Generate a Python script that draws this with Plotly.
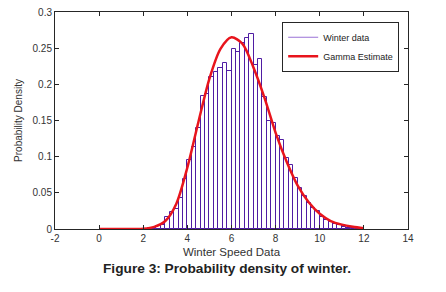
import plotly.graph_objects as go

# Histogram bins (left edges) and probability densities
bin_left = [2.2, 2.4, 2.6, 2.8, 3.0, 3.2, 3.4, 3.6, 3.8, 4.0,
            4.2, 4.4, 4.6, 4.8, 5.0, 5.2, 5.4, 5.6, 5.8, 6.0,
            6.2, 6.4, 6.6, 6.8, 7.0, 7.2, 7.4, 7.6, 7.8, 8.0,
            8.2, 8.4, 8.6, 8.8, 9.0, 9.2, 9.4, 9.6, 9.8, 10.0,
            10.2, 10.4, 10.6, 10.8, 11.0, 11.2, 11.4, 11.6, 11.8]
density = [0.001, 0.002, 0.004, 0.005, 0.016, 0.023, 0.027, 0.043, 0.069, 0.095,
           0.114, 0.139, 0.184, 0.187, 0.210, 0.217, 0.223, 0.230, 0.218, 0.249,
           0.245, 0.257, 0.264, 0.270, 0.227, 0.235, 0.182, 0.149, 0.146, 0.128,
           0.123, 0.098, 0.089, 0.070, 0.056, 0.045, 0.036, 0.029, 0.025, 0.017,
           0.013, 0.010, 0.007, 0.005, 0.003, 0.002, 0.002, 0.001, 0.001]
bin_width = 0.2

# Gamma estimate curve
gamma_x = [0, 1, 2, 2.5, 3.0, 3.5, 4.0, 4.5, 5.0, 5.5, 6.0, 6.5, 7.0, 7.5,
           8.0, 8.5, 9.0, 9.5, 10.0, 10.5, 11.0, 11.5, 12.0]
gamma_y = [0, 0, 0.0005, 0.003, 0.011, 0.035, 0.085, 0.148, 0.208, 0.249, 0.265,
           0.256, 0.223, 0.181, 0.133, 0.093, 0.060, 0.037, 0.021, 0.011, 0.006,
           0.003, 0.001]

x_ticks = [-2, 0, 2, 4, 6, 8, 10, 12, 14]
x_tick_labels = ["-2", "0", "2", "4", "6", "8", "10", "12", "14"]
y_ticks = [0, 0.05, 0.1, 0.15, 0.2, 0.25, 0.3]
y_tick_labels = ["0", "0.05", "0.1", "0.15", "0.2", "0.25", "0.3"]

bin_center = [b + bin_width / 2 for b in bin_left]
bar_color = "#4f1ca3"
font_family = "Liberation Sans, Arial, sans-serif"

fig = go.Figure()
fig.add_trace(go.Bar(
    x=bin_center, y=density, width=bin_width,
    marker=dict(color="rgba(255,255,255,0)", line=dict(color=bar_color, width=1)),
    showlegend=False, name="Winter data",
))
fig.add_trace(go.Scatter(
    x=[None], y=[None], mode="lines", name="Winter data",
    line=dict(color="#9a72d6", width=1.2),
))
fig.add_trace(go.Scatter(
    x=gamma_x, y=gamma_y, mode="lines", name="Gamma Estimate",
    line=dict(color="#e8141c", width=2.5, shape="spline", smoothing=0.8),
))

axis_common = dict(
    showline=True, linecolor="#262626", linewidth=1, mirror="ticks",
    ticks="inside", ticklen=4, tickcolor="#262626", showgrid=False, zeroline=False,
    automargin=False, ticklabeloverflow="allow",
    tickfont=dict(family=font_family, size=10, color="#333333"),
)

# page body has an 8px margin, so the figure is 8px smaller than the window
fig.update_layout(
    width=438, height=284,
    margin=dict(l=47, r=38, t=4, b=63),
    paper_bgcolor="white", plot_bgcolor="white",
    bargap=0,
    xaxis=dict(range=[-2, 14], tickvals=x_ticks, ticktext=x_tick_labels,
               title=dict(text="Winter Speed Data", standoff=4,
                          font=dict(family=font_family, size=11.5, color="#333333")),
               **axis_common),
    yaxis=dict(range=[0, 0.3], tickvals=y_ticks, ticktext=y_tick_labels,
               title=dict(text="Probability Density", standoff=8,
                          font=dict(family=font_family, size=10, color="#333333")),
               **axis_common),
    legend=dict(x=0.975, xanchor="right", y=0.955, yanchor="top",
                bgcolor="white", bordercolor="#262626", borderwidth=1,
                font=dict(family=font_family, size=9, color="#222222"),
                itemwidth=30, tracegroupgap=0),
    annotations=[dict(
        text="<b>Figure 3: Probability density of winter.</b>",
        xref="paper", yref="paper", x=0.487, y=-0.18, xanchor="center", yanchor="middle",
        showarrow=False,
        font=dict(family=font_family, size=13.7, color="#222222"),
    )],
)

fig.write_html("out.html")
